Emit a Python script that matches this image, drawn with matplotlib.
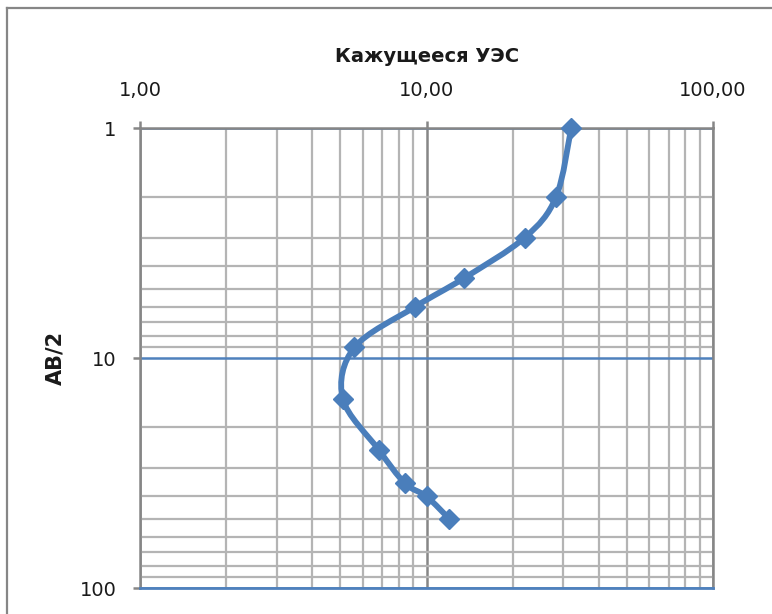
import numpy as np
import matplotlib
matplotlib.use('Agg')
import matplotlib.pyplot as plt
from matplotlib.path import Path
from matplotlib.patches import PathPatch
from matplotlib.lines import Line2D
from matplotlib.ticker import FixedLocator, FixedFormatter, NullFormatter

# Sounding curve
ab2 = [1, 2, 3, 4.5, 6, 9, 15, 25, 35, 40, 50]
rho = [32, 28.3, 22, 13.5, 9.1, 5.6, 5.1, 6.8, 8.4, 10, 12]

x_ticks = [1, 10, 100]
x_tick_labels = ['1,00', '10,00', '100,00']
y_ticks = [1, 10, 100]
y_tick_labels = ['1', '10', '100']

title = 'Кажущееся УЭС'
ylabel = 'AB/2'

blue = '#4a7ebb'
grid_blue = '#4f81bd'
dark = '#868686'
light = '#b4b4b4'


def smooth_path(xs, ys):
    # Excel-like smoothed line: Catmull-Rom -> cubic Bezier in log space
    pts = np.column_stack([np.log10(xs), np.log10(ys)])
    n = len(pts)
    verts = [pts[0]]
    codes = [Path.MOVETO]
    for i in range(n - 1):
        p0 = pts[i - 1] if i > 0 else pts[i]
        p1 = pts[i]
        p2 = pts[i + 1]
        p3 = pts[i + 2] if i + 2 < n else pts[i + 1]
        c1 = p1 + (p2 - p0) / 6.0
        c2 = p2 - (p3 - p1) / 6.0
        verts += [c1, c2, p2]
        codes += [Path.CURVE4] * 3
    return Path(10 ** np.array(verts), codes)


fig = plt.figure(figsize=(7.72, 6.14), dpi=100)
W, H = 772, 614
ax = fig.add_axes([140 / W, 1 - 588 / H, 573 / W, 460 / H])

ax.set_xscale('log')
ax.set_yscale('log')
ax.set_xlim(1, 100)
ax.set_ylim(100, 1)

# grid
minors = [m * d for d in (1, 10) for m in range(2, 10)]
ax.xaxis.set_minor_locator(FixedLocator(minors))
ax.yaxis.set_minor_locator(FixedLocator(minors))
ax.xaxis.set_minor_formatter(NullFormatter())
ax.yaxis.set_minor_formatter(NullFormatter())
ax.grid(True, which='minor', color=light, lw=1.6)
ax.xaxis.grid(True, which='major', color=dark, lw=1.8)
ax.yaxis.grid(True, which='major', color=grid_blue, lw=1.8)
ax.set_axisbelow(True)

ax.xaxis.tick_top()
ax.xaxis.set_major_locator(FixedLocator(x_ticks))
ax.xaxis.set_major_formatter(FixedFormatter(x_tick_labels))
ax.yaxis.set_major_locator(FixedLocator(y_ticks))
ax.yaxis.set_major_formatter(FixedFormatter(y_tick_labels))
ax.tick_params(axis='x', which='major', direction='out', length=5, width=1.8,
               color=dark, pad=15, labelsize=14, labelcolor='#1a1a1a')
ax.tick_params(axis='y', which='major', direction='out', length=5, width=1.8,
               color=dark, pad=12, labelsize=14, labelcolor='#1a1a1a')
ax.tick_params(which='minor', length=0)

for side in ['top', 'left', 'right']:
    ax.spines[side].set_color(dark)
    ax.spines[side].set_linewidth(1.8)
ax.spines['bottom'].set_color(grid_blue)
ax.spines['bottom'].set_linewidth(2.0)

# smoothed curve + diamond markers
ax.add_patch(PathPatch(smooth_path(rho, ab2), facecolor='none',
                       edgecolor=blue, lw=4.2, capstyle='round', zorder=3,
                       clip_on=False))
ax.plot(rho, ab2, linestyle='none', marker='D', markersize=10,
        color=blue, markeredgecolor=blue, zorder=4, clip_on=False)

fig.text(427 / W, 1 - 57 / H, title, ha='center', va='center',
         fontsize=14, fontweight='bold', color='#1a1a1a')
fig.text(55 / W, 1 - 358 / H, ylabel, ha='center', va='center',
         rotation=90, fontsize=15, fontweight='bold', color='#1a1a1a')

# chart area border: only left and top edges fall inside the picture
fig.add_artist(Line2D([6.5 / W, 6.5 / W], [0, 1 - 8 / H],
                      transform=fig.transFigure, color=dark, lw=1.6))
fig.add_artist(Line2D([6.5 / W, 1], [1 - 8 / H, 1 - 8 / H],
                      transform=fig.transFigure, color=dark, lw=1.6))

fig.savefig('out.png', dpi=100)
